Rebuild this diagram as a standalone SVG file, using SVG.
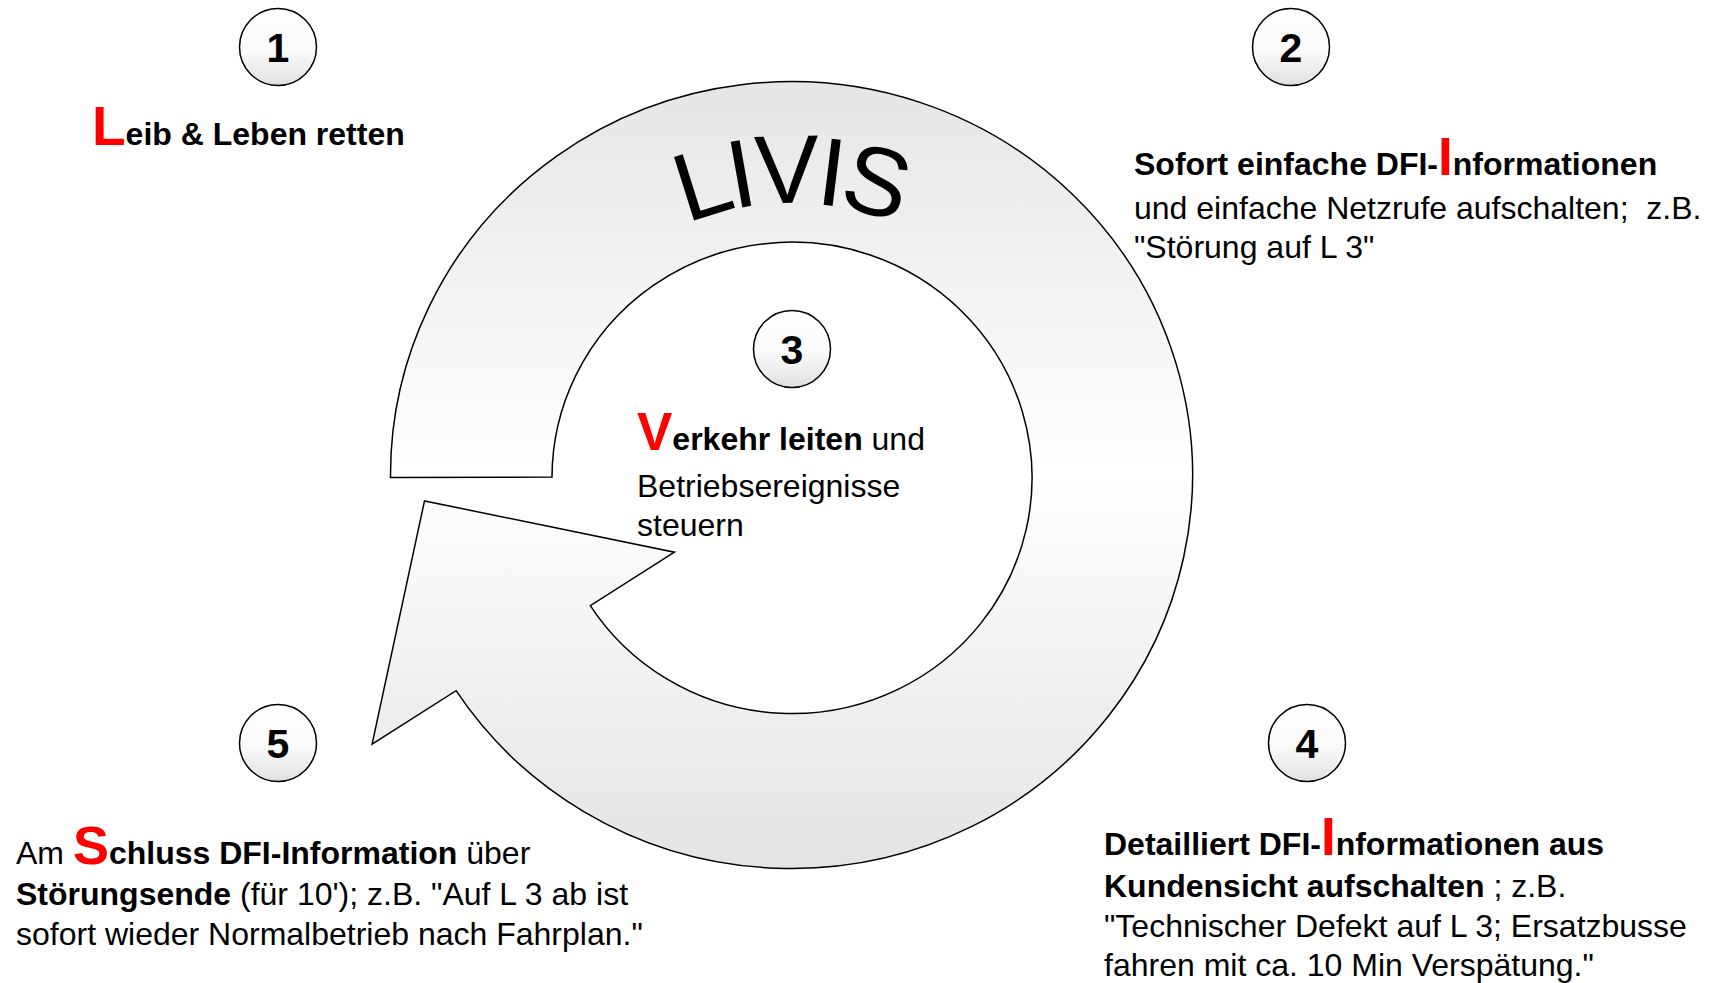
<svg xmlns="http://www.w3.org/2000/svg" width="1711" height="983" viewBox="0 0 1711 983">
  <defs>
    <linearGradient id="ringGrad" x1="0" y1="0" x2="0" y2="1">
      <stop offset="0" stop-color="#e6e6e6"/>
      <stop offset="0.5" stop-color="#ffffff"/>
      <stop offset="1" stop-color="#e4e4e4"/>
    </linearGradient>
    <linearGradient id="badgeGrad" x1="0" y1="0" x2="0" y2="1">
      <stop offset="0" stop-color="#ffffff"/>
      <stop offset="0.55" stop-color="#fafafa"/>
      <stop offset="1" stop-color="#e0e0e0"/>
    </linearGradient>
    <path id="livisArc" d="M 518,477 A 274 274 0 0 1 1066,477"/>
  </defs>
  <style>
    .t { font-family: "Liberation Sans", Arial, Helvetica, sans-serif; font-size: 32px; fill: #000000; }
    .b { font-weight: bold; }
    .r { fill: #ff0000; font-weight: bold; }
    .num { font-family: "Liberation Sans", Arial, Helvetica, sans-serif; font-size: 41px; font-weight: bold; text-anchor: middle; fill: #000000; }
    .badge { fill: url(#badgeGrad); stroke: #000000; stroke-width: 1.5; }
    .ring { fill: url(#ringGrad); stroke: #000000; stroke-width: 1.5; stroke-linejoin: miter; }
  </style>
  <rect x="0" y="0" width="1711" height="983" fill="#ffffff"/>

  <g id="connectors">
    <path id="cycle-arrow" class="ring" d="M 390.5,477.5 L 552,477 A 240 235.7 0 1 1 590.3,605.6 L 674.4,552.2 L 424.5,500.9 L 372.1,744.2 L 456.1,690.7 A 401 393.4 0 1 0 390.5,477.5 Z"/>
  </g>

  <g id="title">
    <text class="t" style="font-size:97px; letter-spacing:-5px"><textPath href="#livisArc" startOffset="49.8%" text-anchor="middle">LIVIS</textPath></text>
  </g>

  <g id="step1">
    <circle class="badge" cx="278" cy="47" r="38.5"/>
    <text class="num" x="278" y="62">1</text>
    <text class="t b" x="92" y="145"><tspan class="r" style="font-size:55px">L</tspan>eib &amp; Leben retten</text>
  </g>

  <g id="step2">
    <circle class="badge" cx="1291" cy="47" r="38.5"/>
    <text class="num" x="1291" y="62">2</text>
    <text class="t b" x="1134" y="175">Sofort einfache DFI-<tspan class="r" style="font-size:53px">I</tspan>nformationen</text>
    <text class="t" x="1134" y="218.5" xml:space="preserve">und einfache Netzrufe aufschalten;  z.B.</text>
    <text class="t" x="1134" y="258">"Störung auf L 3"</text>
  </g>

  <g id="step3">
    <circle class="badge" cx="792" cy="349" r="38.5"/>
    <text class="num" x="792" y="364">3</text>
    <text class="t" x="637" y="450"><tspan class="r" style="font-size:53px">V</tspan><tspan class="b">erkehr leiten</tspan> und</text>
    <text class="t" x="637" y="497">Betriebsereignisse</text>
    <text class="t" x="637" y="536">steuern</text>
  </g>

  <g id="step4">
    <circle class="badge" cx="1307" cy="743" r="38.5"/>
    <text class="num" x="1307" y="758">4</text>
    <text class="t b" x="1104" y="855">Detailliert DFI-<tspan class="r" style="font-size:53px">I</tspan>nformationen aus</text>
    <text class="t" x="1104" y="897"><tspan class="b">Kundensicht aufschalten</tspan> ; z.B.</text>
    <text class="t" x="1104" y="937">"Technischer Defekt auf L 3; Ersatzbusse</text>
    <text class="t" x="1104" y="976">fahren mit ca. 10 Min Verspätung."</text>
  </g>

  <g id="step5">
    <circle class="badge" cx="278" cy="743" r="38.5"/>
    <text class="num" x="278" y="758">5</text>
    <text class="t" x="16" y="863.5">Am <tspan class="r" style="font-size:54px">S</tspan><tspan class="b">chluss DFI-Information</tspan> über</text>
    <text class="t" x="16" y="905"><tspan class="b">Störungsende</tspan> (für 10'); z.B. "Auf L 3 ab ist</text>
    <text class="t" x="16" y="944.5">sofort wieder Normalbetrieb nach Fahrplan."</text>
  </g>
</svg>
